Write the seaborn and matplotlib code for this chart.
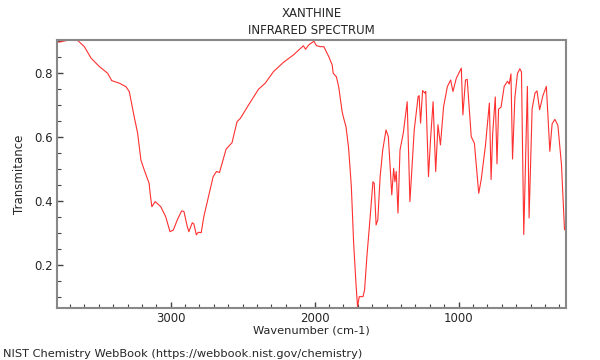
import matplotlib
matplotlib.use("Agg")
import matplotlib.pyplot as plt
from matplotlib.ticker import MultipleLocator
import seaborn as sns
import pandas as pd

wavenumber = [3778, 3714, 3645, 3600, 3553, 3496, 3438, 3410, 3357, 3311, 3288, 3254,
              3230, 3207, 3184, 3150, 3143, 3131, 3108, 3069, 3035, 3005, 2982, 2954,
              2924, 2908, 2885, 2874, 2850, 2839, 2822, 2809, 2788, 2770, 2735, 2705,
              2682, 2661, 2643, 2615, 2574, 2558, 2539, 2516, 2459, 2390, 2343, 2286,
              2217, 2148, 2097, 2078, 2063, 2040, 2005, 1987, 1959, 1936, 1902, 1878,
              1871, 1849, 1833, 1809, 1798, 1782, 1764, 1745, 1729, 1713, 1702, 1690,
              1664, 1653, 1637, 1614, 1595, 1586, 1573, 1561, 1545, 1527, 1504, 1488,
              1464, 1451, 1442, 1433, 1421, 1407, 1384, 1357, 1338, 1308, 1281, 1274,
              1264, 1250, 1235, 1228, 1209, 1195, 1177, 1159, 1143, 1126, 1104, 1078,
              1055, 1039, 1016, 981, 970, 952, 940, 912, 890, 860, 843, 814, 786, 774,
              763, 745, 733, 722, 705, 683, 660, 648, 636, 625, 609, 591, 574, 563,
              547, 522, 510, 489, 469, 455, 437, 414, 390, 366, 350, 331, 310, 285, 264]
transmittance = [0.895, 0.901, 0.900, 0.881, 0.845, 0.819, 0.798, 0.775, 0.767, 0.756, 0.741, 0.663,
                 0.611, 0.527, 0.496, 0.454, 0.423, 0.381, 0.397, 0.381, 0.350, 0.303, 0.308, 0.340,
                 0.368, 0.366, 0.319, 0.303, 0.331, 0.327, 0.293, 0.301, 0.300, 0.350, 0.418, 0.475,
                 0.491, 0.488, 0.517, 0.561, 0.581, 0.611, 0.647, 0.657, 0.699, 0.748, 0.767, 0.803,
                 0.832, 0.855, 0.876, 0.884, 0.873, 0.887, 0.898, 0.884, 0.881, 0.881, 0.850, 0.824,
                 0.798, 0.787, 0.756, 0.678, 0.657, 0.631, 0.564, 0.444, 0.267, 0.142, 0.069, 0.100,
                 0.100, 0.121, 0.225, 0.350, 0.459, 0.454, 0.324, 0.340, 0.475, 0.558, 0.621, 0.600,
                 0.418, 0.501, 0.459, 0.491, 0.361, 0.558, 0.611, 0.709, 0.397, 0.621, 0.725, 0.728,
                 0.642, 0.744, 0.736, 0.741, 0.475, 0.590, 0.709, 0.491, 0.637, 0.574, 0.694, 0.756,
                 0.777, 0.741, 0.782, 0.814, 0.668, 0.777, 0.779, 0.600, 0.579, 0.423, 0.465, 0.569, 0.705, 0.466,
                 0.610, 0.724, 0.515, 0.686, 0.692, 0.757, 0.773, 0.764, 0.796, 0.530, 0.721, 0.797, 0.812, 0.802,
                 0.294, 0.757, 0.346, 0.687, 0.736, 0.743, 0.684, 0.728, 0.757, 0.554, 0.640, 0.654, 0.635, 0.512, 0.309]

title_lines = ["XANTHINE", "INFRARED SPECTRUM"]
x_label = "Wavenumber (cm-1)"
y_label = "Transmitance"
footer = "NIST Chemistry WebBook (https://webbook.nist.gov/chemistry)"

df = pd.DataFrame({"wn": wavenumber, "T": transmittance})

sns.set_style("white")
plt.rcParams["font.family"] = ["DejaVu Sans"]

fig = plt.figure(figsize=(6, 3.6), dpi=100)
ax = fig.add_axes([0.095, 0.144, 0.848, 0.745])

sns.lineplot(data=df, x="wn", y="T", sort=False, ax=ax, color="#ff3030", linewidth=0.8)

ax.set_xlim(3790, 255)
ax.set_ylim(0.064, 0.902)
ax.xaxis.set_major_locator(MultipleLocator(1000))
ax.xaxis.set_minor_locator(MultipleLocator(100))
ax.yaxis.set_major_locator(MultipleLocator(0.2))
ax.yaxis.set_minor_locator(MultipleLocator(0.05))
ax.tick_params(axis="both", which="both", direction="in", labelsize=8.5,
               left=True, bottom=True, top=False, right=False, color="#444444")
ax.tick_params(which="major", length=4, width=1, pad=3)
ax.tick_params(which="minor", length=3, width=0.8)
ax.yaxis.set_major_formatter(matplotlib.ticker.FormatStrFormatter("%.1f"))

for s in ax.spines.values():
    s.set_color("#888888")
    s.set_linewidth(1.5)

ax.set_xlabel(x_label, fontsize=8.2, labelpad=0)
ax.set_ylabel(y_label, fontsize=8.5, labelpad=6)
ax.set_title("\n".join(title_lines), fontsize=8.5, linespacing=1.4, pad=4)

fig.text(0.005, 0.003, footer, fontsize=8.2, ha="left", va="bottom")

fig.savefig("out.png", dpi=100)
